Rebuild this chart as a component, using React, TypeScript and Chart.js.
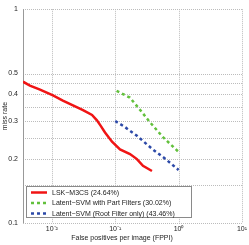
import React, { useEffect, useRef } from "react";
import { Chart, registerables } from "chart.js";

Chart.register(...registerables);

const lskFppi = [0.0035, 0.0045, 0.0065, 0.0104, 0.0149, 0.0215, 0.031, 0.043, 0.0514, 0.0594, 0.069, 0.089, 0.119, 0.171, 0.22, 0.274, 0.38];
const lskMiss = [0.458, 0.439, 0.421, 0.395, 0.374, 0.355, 0.337, 0.32, 0.302, 0.284, 0.265, 0.24, 0.221, 0.21, 0.199, 0.185, 0.175];

const partFppi = [0.105, 0.17, 0.243, 0.35, 0.56, 1.0];
const partMiss = [0.415, 0.386, 0.34, 0.297, 0.253, 0.215];

const rootFppi = [0.1, 0.14, 0.22, 0.39, 0.6, 1.0];
const rootMiss = [0.3, 0.282, 0.256, 0.221, 0.201, 0.177];

const seriesLabels = [
  "LSK\u2212M3CS (24.64%)",
  "Latent\u2212SVM with Part Filters (30.02%)",
  "Latent\u2212SVM (Root Filter only) (43.46%)",
];
const seriesColors = ["#f01414", "#62c03c", "#2c49a8"];

const xTickValues = [0.01, 0.1, 1, 10];
const xTickLabels = ["10\u207B\u00B2", "10\u207B\u00B9", "10\u2070", "10\u00B9"];
const yGridValues = [0.1, 0.15, 0.2, 0.25, 0.3, 0.35, 0.4, 0.45, 0.5, 1];
const yLabelValues = [0.1, 0.2, 0.3, 0.4, 0.5, 1];
const yLabelTexts = ["0.1", "0.2", "0.3", "0.4", "0.5", "1"];

const xTitle = "False positives per image (FPPI)";
const yTitle = "miss rate";

const FONT = "'Liberation Sans', Arial, sans-serif";

export default function App() {
  const ref = useRef<HTMLCanvasElement | null>(null);

  useEffect(() => {
    if (!ref.current) return;
    const toPts = (xs: number[], ys: number[]) => xs.map((x, i) => ({ x, y: ys[i] }));

    const gridPlugin = {
      id: "dottedGrid",
      beforeDatasetsDraw(chart: any) {
        const ctx = chart.ctx;
        const a = chart.chartArea;
        const xs = chart.scales.x;
        const ys = chart.scales.y;
        ctx.save();
        ctx.strokeStyle = "#bcbcbc";
        ctx.lineWidth = 1;
        ctx.setLineDash([1, 1]);
        yGridValues.forEach((v) => {
          const y = Math.round(ys.getPixelForValue(v)) + 0.5;
          ctx.beginPath();
          ctx.moveTo(a.left, y);
          ctx.lineTo(a.right, y);
          ctx.stroke();
        });
        xTickValues.forEach((v) => {
          const x = Math.round(xs.getPixelForValue(v)) + 0.5;
          ctx.beginPath();
          ctx.moveTo(x, a.top);
          ctx.lineTo(x, a.bottom);
          ctx.stroke();
        });
        ctx.setLineDash([]);
        ctx.strokeStyle = "#999999";
        ctx.beginPath();
        const lx = Math.round(a.left) + 0.5;
        ctx.moveTo(lx, a.top);
        ctx.lineTo(lx, a.bottom);
        ctx.stroke();
        ctx.restore();
      },
    };

    const overlay = {
      id: "overlay",
      afterDraw(chart: any) {
        const ctx = chart.ctx;
        ctx.save();
        ctx.fillStyle = "#222";
        ctx.font = `7px ${FONT}`;
        ctx.textAlign = "center";
        ctx.textBaseline = "middle";
        ctx.fillText(xTitle, 122, 238);
        const lx = 26.5, ly = 186.5, lw = 165, lh = 31;
        ctx.fillStyle = "#ffffff";
        ctx.fillRect(lx, ly, lw, lh);
        ctx.strokeStyle = "#8a8a8a";
        ctx.lineWidth = 1;
        ctx.setLineDash([]);
        ctx.strokeRect(lx, ly, lw, lh);
        chart.data.datasets.forEach((ds: any, i: number) => {
          const y = 192.5 + i * 10.5;
          ctx.beginPath();
          ctx.strokeStyle = ds.borderColor;
          ctx.lineWidth = ds.borderWidth;
          ctx.setLineDash(ds.borderDash || []);
          ctx.moveTo(31, y);
          ctx.lineTo(47, y);
          ctx.stroke();
          ctx.setLineDash([]);
          ctx.fillStyle = "#222";
          ctx.font = `7px ${FONT}`;
          ctx.textAlign = "left";
          ctx.textBaseline = "middle";
          ctx.fillText(ds.label, 52, y + 0.5);
        });
        ctx.restore();
      },
    };

    const chart = new Chart(ref.current, {
      type: "line",
      data: {
        datasets: [
          {
            label: seriesLabels[0],
            data: toPts(lskFppi, lskMiss),
            borderColor: seriesColors[0],
            borderWidth: 2.5,
            pointRadius: 0,
            fill: false,
          },
          {
            label: seriesLabels[1],
            data: toPts(partFppi, partMiss),
            borderColor: seriesColors[1],
            borderWidth: 2.5,
            borderDash: [3, 3],
            pointRadius: 0,
            fill: false,
          },
          {
            label: seriesLabels[2],
            data: toPts(rootFppi, rootMiss),
            borderColor: seriesColors[2],
            borderWidth: 2.5,
            borderDash: [3, 3],
            pointRadius: 0,
            fill: false,
          },
        ],
      },
      options: {
        animation: false,
        responsive: false,
        layout: { padding: { top: 5, right: 7, left: 0, bottom: 0 } },
        plugins: { legend: { display: false }, tooltip: { enabled: false } },
        scales: {
          x: {
            type: "logarithmic",
            min: 0.0035,
            max: 10,
            afterBuildTicks: (s: any) => {
              s.ticks = xTickValues.map((v) => ({ value: v }));
            },
            afterFit: (s: any) => {
              s.height = 22;
            },
            ticks: {
              autoSkip: false,
              maxRotation: 0,
              padding: 2,
              color: "#222",
              font: { size: 7, family: FONT },
              callback: (v: any) => {
                const i = xTickValues.indexOf(Number(v));
                return i >= 0 ? xTickLabels[i] : "";
              },
            },
            grid: { display: false, drawTicks: false },
            border: { display: false },
          },
          y: {
            type: "logarithmic",
            min: 0.1,
            max: 1,
            afterBuildTicks: (s: any) => {
              s.ticks = yGridValues.map((v) => ({ value: v }));
            },
            afterFit: (s: any) => {
              s.width = 23;
            },
            ticks: {
              autoSkip: false,
              padding: 5,
              color: "#222",
              font: { size: 7, family: FONT },
              callback: (v: any) => {
                const i = yLabelValues.indexOf(Number(v));
                return i >= 0 ? yLabelTexts[i] : "";
              },
            },
            grid: { display: false, drawTicks: false },
            border: { display: false },
            title: {
              display: true,
              text: yTitle,
              color: "#222",
              font: { size: 7, family: FONT },
              padding: { top: 1, bottom: 0 },
            },
          },
        },
      },
      plugins: [gridPlugin, overlay],
    } as any);
    return () => chart.destroy();
  }, []);

  return (
    <div style={{ position: "absolute", left: 0, top: 0, width: 249, height: 245, background: "#fff" }}>
      <canvas ref={ref} width={249} height={245} style={{ width: 249, height: 245, display: "block" }} />
    </div>
  );
}
